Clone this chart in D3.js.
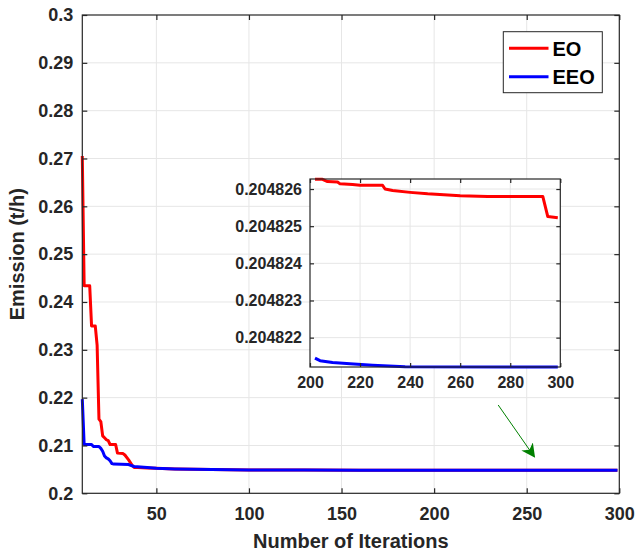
<!DOCTYPE html>
<html>
<head>
<meta charset="utf-8">
<script src="https://cdn.jsdelivr.net/npm/d3@7"></script>
<style>
  html, body { margin: 0; padding: 0; background: #fff; }
  svg { display: block; font-family: "Liberation Sans", Arial, sans-serif; }
</style>
</head>
<body>
<svg id="chart" width="635" height="556"></svg>
<script>
// ---------- DATA ----------
const seriesNames = ["EO", "EEO"];
const seriesColors = ["#ff0000", "#0000ff"];

// Early iterations (main plot), [iteration, emission]
const eoEarly = [
  [10, 0.2705], [11, 0.2434], [14, 0.2434], [15, 0.2350], [17, 0.2350], [18, 0.2310],
  [19, 0.2155], [20, 0.2150], [21, 0.2120], [22, 0.2116], [23, 0.2112], [24, 0.2110],
  [25, 0.2102], [28, 0.2102], [29, 0.2084], [32, 0.2083], [33, 0.2080], [35, 0.2070],
  [37, 0.2058], [38, 0.2054], [40, 0.2054], [45, 0.2053], [50, 0.20522], [60, 0.2051],
  [70, 0.20502], [80, 0.20495], [100, 0.20488], [130, 0.20485], [160, 0.204832], [200, 0.2048263]
];
const eeoEarly = [
  [10, 0.2197], [11, 0.2102], [15, 0.2102], [16, 0.2098], [19, 0.2098], [20, 0.2094],
  [21, 0.2088], [22, 0.2078], [23, 0.2074], [24, 0.2072], [25, 0.2068], [26, 0.2062],
  [27, 0.2061], [35, 0.2060], [38, 0.2056], [45, 0.2054], [50, 0.20522], [60, 0.2051],
  [70, 0.20502], [80, 0.20495], [100, 0.20488], [130, 0.20485], [160, 0.204828], [200, 0.2048215]
];
// Late iterations (inset), [iteration, emission]
const eoLate = [
  [202, 0.20482626], [205, 0.20482626], [207, 0.2048262], [211, 0.20482619], [212, 0.20482614],
  [217, 0.20482612], [220, 0.2048261], [229, 0.2048261], [230, 0.204826], [233, 0.20482596],
  [240, 0.20482591], [247, 0.20482587], [260, 0.20482582], [271, 0.2048258], [293, 0.2048258],
  [295, 0.20482526], [299, 0.20482523]
];
const eeoLate = [
  [202, 0.20482145], [204, 0.20482138], [209, 0.20482133], [216, 0.2048213],
  [225, 0.20482126], [238, 0.20482122], [299, 0.20482121]
];

const xTicks = [50, 100, 150, 200, 250, 300];
const yTicks = [0.2, 0.21, 0.22, 0.23, 0.24, 0.25, 0.26, 0.27, 0.28, 0.29, 0.3];
const yTickLabels = ["0.2", "0.21", "0.22", "0.23", "0.24", "0.25", "0.26", "0.27", "0.28", "0.29", "0.3"];
const insetXTicks = [200, 220, 240, 260, 280, 300];
const insetYTicks = [0.204822, 0.204823, 0.204824, 0.204825, 0.204826];
const insetYTickLabels = ["0.204822", "0.204823", "0.204824", "0.204825", "0.204826"];
const xLabel = "Number of Iterations";
const yLabel = "Emission (t/h)";
// Annotation arrow (data coords of main plot): from -> to
const arrowFrom = [234.6, 0.21846];
const arrowTo = [254.1, 0.20765];

// ---------- DRAW ----------
const svg = d3.select("#chart");
const axisColor = "#262626";
const gridColor = "#e6e6e6";

const M = { left: 82.3, right: 619.3, top: 15, bottom: 493.3 };
const x = d3.scaleLinear().domain([10, 300]).range([M.left, M.right]);
const y = d3.scaleLinear().domain([0.2, 0.3]).range([M.bottom, M.top]);

function drawGrid(g, xs, ys, xt, yt) {
  const [x0, x1] = xs.range();
  const [y0, y1] = ys.range();
  g.append("g").selectAll("line").data(xt.filter(t => xs(t) > x0 + 1 && xs(t) < x1 - 1)).join("line")
    .attr("x1", d => xs(d)).attr("x2", d => xs(d)).attr("y1", y0).attr("y2", y1)
    .attr("stroke", gridColor).attr("stroke-width", 1);
  g.append("g").selectAll("line").data(yt.filter(t => ys(t) < y0 - 1 && ys(t) > y1 + 1)).join("line")
    .attr("y1", d => ys(d)).attr("y2", d => ys(d)).attr("x1", x0).attr("x2", x1)
    .attr("stroke", gridColor).attr("stroke-width", 1);
}

function drawFrame(g, xs, ys, xt, yt, ytLabels, fontSize, tickLen, xLabelOffset, yLabelOffset) {
  const [x0, x1] = xs.range();
  const [y0, y1] = ys.range();
  g.append("rect").attr("x", x0).attr("y", y1).attr("width", x1 - x0).attr("height", y0 - y1)
    .attr("fill", "none").attr("stroke", axisColor).attr("stroke-width", 1.2);
  const xb = d3.axisBottom(xs).tickValues(xt).tickSizeInner(-tickLen).tickSizeOuter(0).tickPadding(xLabelOffset);
  const gxb = g.append("g").attr("transform", `translate(0,${y0})`).call(xb);
  const xtop = d3.axisTop(xs).tickValues(xt).tickSizeInner(-tickLen).tickSizeOuter(0).tickFormat("");
  const gxt = g.append("g").attr("transform", `translate(0,${y1})`).call(xtop);
  const yl = d3.axisLeft(ys).tickValues(yt).tickSizeInner(-tickLen).tickSizeOuter(0).tickPadding(yLabelOffset)
    .tickFormat((d, i) => ytLabels[i]);
  const gyl = g.append("g").attr("transform", `translate(${x0},0)`).call(yl);
  const yr = d3.axisRight(ys).tickValues(yt).tickSizeInner(-tickLen).tickSizeOuter(0).tickFormat("");
  const gyr = g.append("g").attr("transform", `translate(${x1},0)`).call(yr);
  [gxb, gxt, gyl, gyr].forEach(a => {
    a.select(".domain").remove();
    a.selectAll(".tick line").attr("stroke", axisColor).attr("stroke-width", 1.2);
    a.selectAll(".tick text").attr("fill", axisColor).attr("font-size", fontSize)
      .attr("font-weight", "bold").attr("font-family", "'Liberation Sans', Arial, sans-serif");
  });
}

// Main plot
const main = svg.append("g");
drawGrid(main, x, y, xTicks, yTicks);
const line = d3.line().x(d => x(d[0])).y(d => y(d[1]));
const eoAll = eoEarly.concat(eoLate);
const eeoAll = eeoEarly.concat(eeoLate);
const mainLines = main.append("g");
mainLines.append("path").datum(eoAll).attr("d", line).attr("fill", "none")
  .attr("stroke", seriesColors[0]).attr("stroke-width", 3).attr("stroke-linejoin", "round");
mainLines.append("path").datum(eeoAll).attr("d", line).attr("fill", "none")
  .attr("stroke", seriesColors[1]).attr("stroke-width", 3).attr("stroke-linejoin", "round");
drawFrame(main, x, y, xTicks, yTicks, yTickLabels, 18, 5, 14, 9);

// Axis labels
main.append("text").attr("x", (M.left + M.right) / 2).attr("y", 548)
  .attr("text-anchor", "middle").attr("font-size", 20).attr("font-weight", "bold")
  .attr("fill", axisColor).text(xLabel);
main.append("text").attr("transform", `translate(24,${(M.top + M.bottom) / 2}) rotate(-90)`)
  .attr("text-anchor", "middle").attr("font-size", 20).attr("font-weight", "bold")
  .attr("fill", axisColor).text(yLabel);

// Arrow
const defs = svg.append("defs");
defs.append("marker").attr("id", "arrowHead").attr("viewBox", "0 0 10 10")
  .attr("refX", 9).attr("refY", 5).attr("markerWidth", 14).attr("markerHeight", 14)
  .attr("markerUnits", "userSpaceOnUse").attr("orient", "auto")
  .append("path").attr("d", "M0,0 L10,5 L0,10 L3,5 Z").attr("fill", "#008000");
main.append("line")
  .attr("x1", x(arrowFrom[0])).attr("y1", y(arrowFrom[1]))
  .attr("x2", x(arrowTo[0])).attr("y2", y(arrowTo[1]))
  .attr("stroke", "#008000").attr("stroke-width", 1).attr("marker-end", "url(#arrowHead)");

// Legend
const legend = main.append("g");
legend.append("rect").attr("x", 503.3).attr("y", 31.7).attr("width", 99).attr("height", 61)
  .attr("fill", "#fff").attr("stroke", axisColor).attr("stroke-width", 1);
seriesNames.forEach((name, i) => {
  const cy = 48.3 + i * 28.4;
  legend.append("line").attr("x1", 509).attr("x2", 548.5).attr("y1", cy).attr("y2", cy)
    .attr("stroke", seriesColors[i]).attr("stroke-width", 3);
  legend.append("text").attr("x", 552.5).attr("y", cy).attr("dy", "0.36em")
    .attr("font-size", 20).attr("font-weight", "bold").attr("fill", "#000").text(name);
});

// Inset
const I = { left: 310, right: 560.3, top: 179, bottom: 367 };
const xi = d3.scaleLinear().domain([200, 300]).range([I.left, I.right]);
const yi = d3.scaleLinear().domain([0.20482121, 0.20482627]).range([I.bottom, I.top]);
const inset = svg.append("g");
inset.append("rect").attr("x", I.left).attr("y", I.top).attr("width", I.right - I.left)
  .attr("height", I.bottom - I.top).attr("fill", "#fff");
drawGrid(inset, xi, yi, insetXTicks, insetYTicks);
const iline = d3.line().x(d => xi(d[0])).y(d => yi(d[1]));
inset.append("path").datum(eoLate).attr("d", iline).attr("fill", "none")
  .attr("stroke", seriesColors[0]).attr("stroke-width", 3).attr("stroke-linejoin", "round");
inset.append("path").datum(eeoLate).attr("d", iline).attr("fill", "none")
  .attr("stroke", seriesColors[1]).attr("stroke-width", 3).attr("stroke-linejoin", "round");
drawFrame(inset, xi, yi, insetXTicks, insetYTicks, insetYTickLabels, 16, 4, 10, 8);
</script>
</body>
</html>
